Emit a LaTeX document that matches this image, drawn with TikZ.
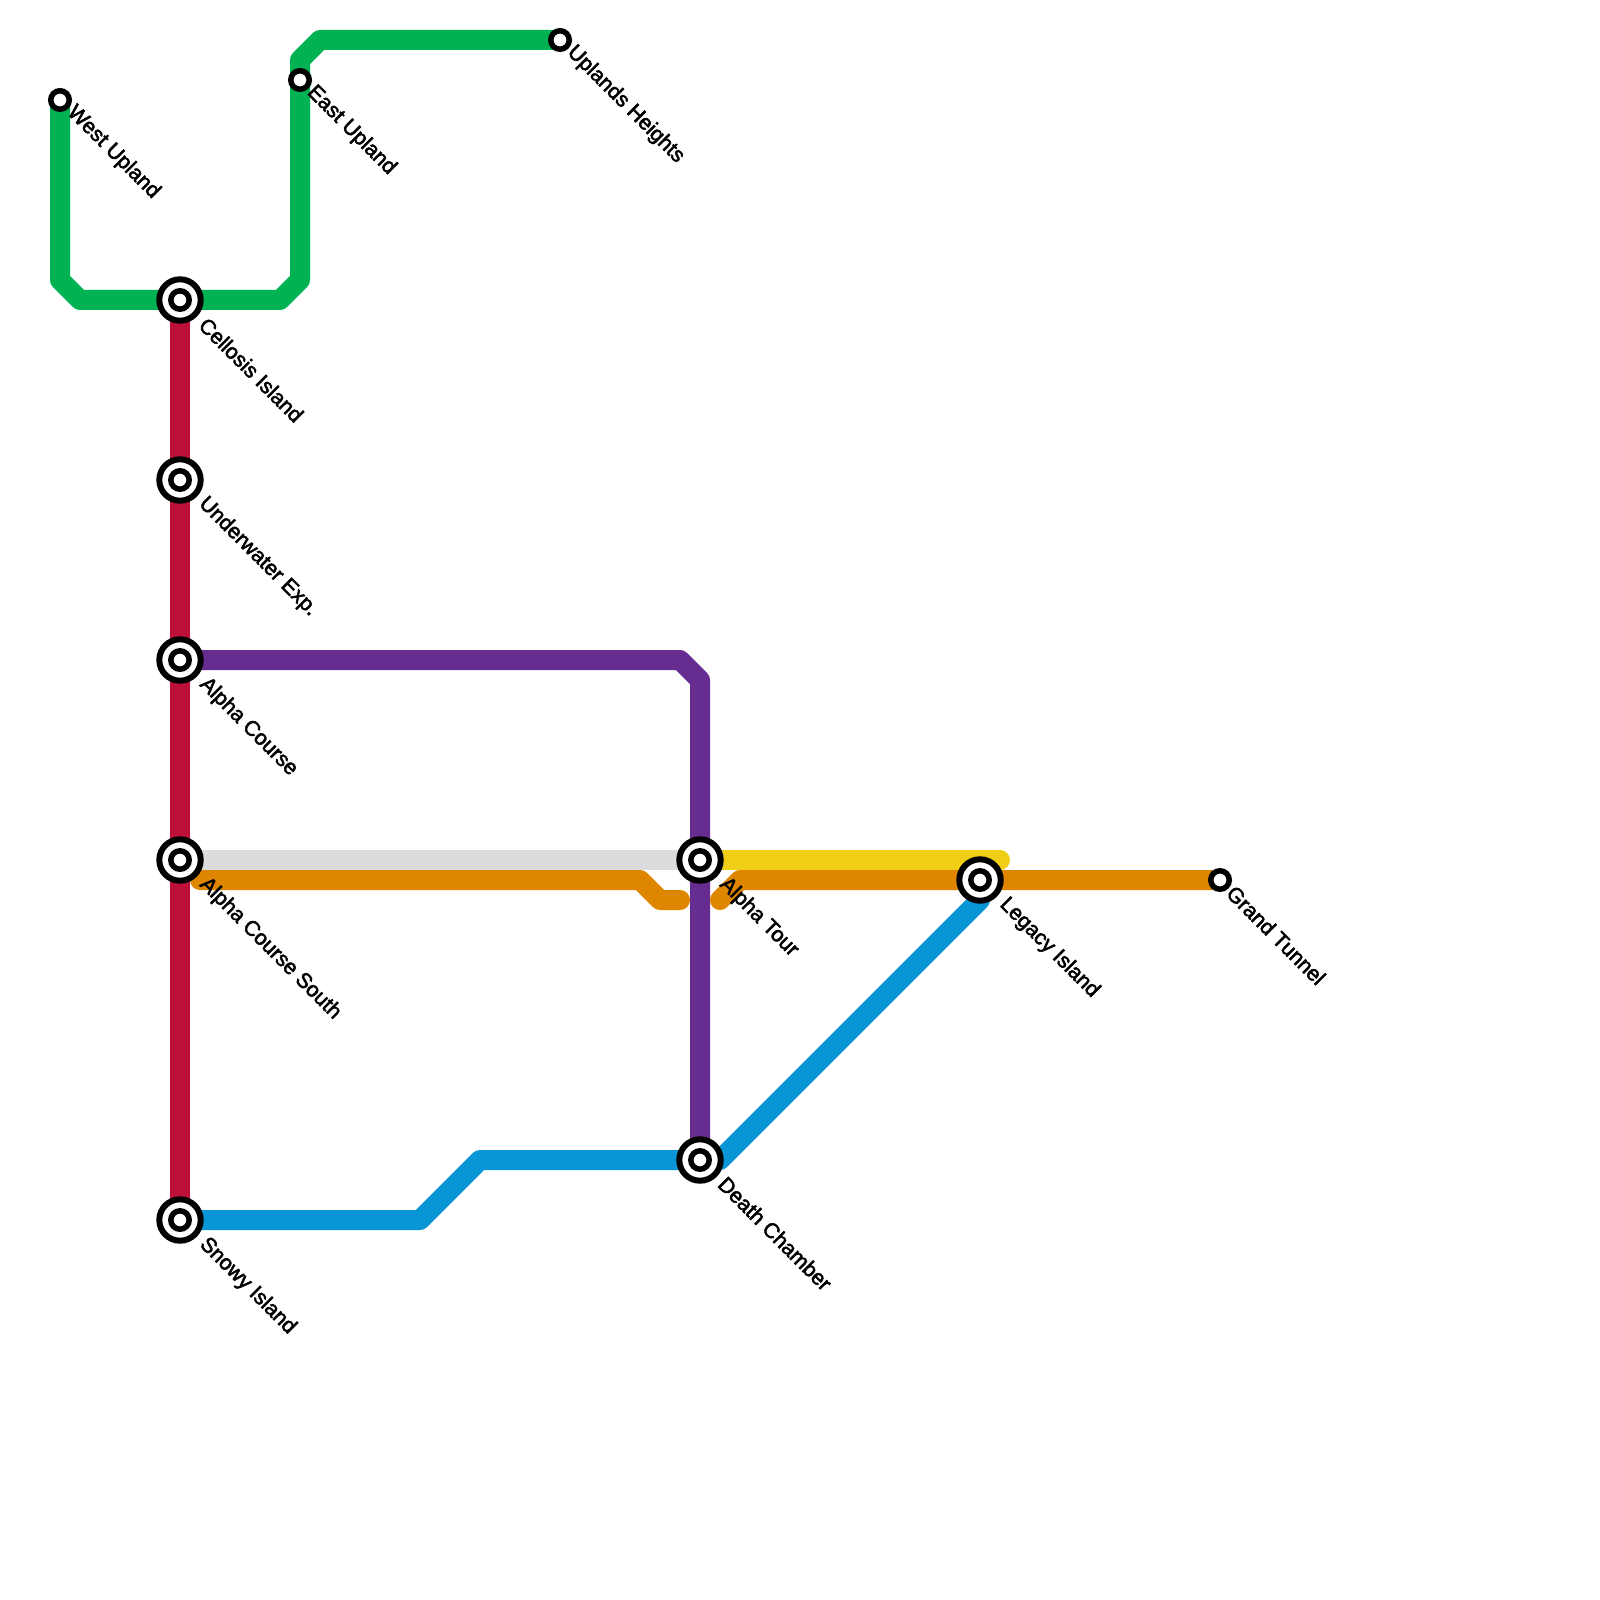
\documentclass[tikz,border=0pt]{standalone}
\usepackage{fontspec}
\setmainfont{Liberation Sans}[RawFeature={embolden=2.4}]
\usetikzlibrary{backgrounds}
\definecolor{greenline}{HTML}{00B251}
\definecolor{redline}{HTML}{BD1038}
\definecolor{purpleline}{HTML}{662C90}
\definecolor{greyline}{HTML}{DCDCDC}
\definecolor{yellowline}{HTML}{F0CE15}
\definecolor{orangeline}{HTML}{DF8600}
\definecolor{blueline}{HTML}{0896D7}
\tikzset{
  route/.style={line width=2mm, line cap=round, line join=round},
  stop/.style={circle, draw=black, fill=white, line width=0.55mm, minimum size=1.85mm, inner sep=0pt},
  hub/.style={circle, draw=black, fill=white, line width=0.6mm, minimum size=4.14mm, inner sep=0pt,
    path picture={\draw[line width=0.55mm] (path picture bounding box.center) circle (0.92mm);}},
  stoplabel/.style={rotate=-45, anchor=west, inner sep=0pt, font=\fontsize{6.05}{7}\selectfont},
}
\begin{document}
\begin{tikzpicture}[x=2mm, y=-2mm]
  \useasboundingbox (0,0) rectangle (80,80);

  % stations
  \node[stop] (westupland) at (3,5) {};
  \node[stop] (eastupland) at (15,4) {};
  \node[stop] (uplandsheights) at (28,2) {};
  \node[stop] (grandtunnel) at (61,44) {};
  \node[hub] (cellosis) at (9,15) {};
  \node[hub] (underwater) at (9,24) {};
  \node[hub] (alphacourse) at (9,33) {};
  \node[hub] (alphasouth) at (9,43) {};
  \node[hub] (snowy) at (9,61) {};
  \node[hub] (alphatour) at (35,43) {};
  \node[hub] (deathchamber) at (35,58) {};
  \node[hub] (legacy) at (49,44) {};

  % free ends of the broken lines
  \coordinate (greyend) at (10,44);
  \coordinate (orangeleft) at (34,45);
  \coordinate (orangeright) at (36,45);
  \coordinate (yellowend) at (50,43);

  % lines
  \begin{scope}[on background layer]
    \draw[route, redline] (cellosis.center) -- (underwater.center) -- (alphacourse.center) -- (alphasouth.center) -- (snowy.center);
    \draw[route, greenline] (westupland.center) -- (3,14) -- (4,15) -- (cellosis.center) -- (14,15) -- (15,14) -- (eastupland.center) -- (15,3) -- (16,2) -- (uplandsheights.center);
    \draw[route, purpleline] (alphacourse.center) -- (34,33) -- (35,34) -- (alphatour.center) -- (deathchamber.center);
    \draw[route, greyline] (alphasouth.center) -- (alphatour.center);
    \draw[route, yellowline] (alphatour.center) -- (yellowend);
    \draw[route, orangeline] (greyend) -- (32,44) -- (33,45) -- (orangeleft);
    \draw[route, orangeline] (orangeright) -- (37,44) -- (legacy.center) -- (grandtunnel.center);
    \draw[route, blueline] (snowy.center) -- (21,61) -- (24,58) -- (deathchamber.center) -- (36,58) -- (49,45) -- (legacy.center);
  \end{scope}

  % labels
  \node[stoplabel] (westuplandlabel) at (3.5,5.45) {West Upland};
  \node[stoplabel] (eastuplandlabel) at (15.5,4.45) {East Upland};
  \node[stoplabel] (uplandsheightslabel) at (28.5,2.45) {Uplands Heights};
  \node[stoplabel] (grandtunnellabel) at (61.5,44.45) {Grand Tunnel};
  \node[stoplabel] (cellosislabel) at (10.12,16.05) {Cellosis Island};
  \node[stoplabel] (underwaterlabel) at (10.08,25.02) {Underwater Exp.};
  \node[stoplabel] (alphacourselabel) at (10.12,34.05) {Alpha Course};
  \node[stoplabel] (alphasouthlabel) at (10.12,44.05) {Alpha Course South};
  \node[stoplabel] (snowylabel) at (10.12,62.05) {Snowy Island};
  \node[stoplabel] (alphatourlabel) at (36.12,44.05) {Alpha Tour};
  \node[stoplabel] (deathchamberlabel) at (36.08,59) {Death Chamber};
  \node[stoplabel] (legacylabel) at (50.12,45.05) {Legacy Island};
\end{tikzpicture}
\end{document}
